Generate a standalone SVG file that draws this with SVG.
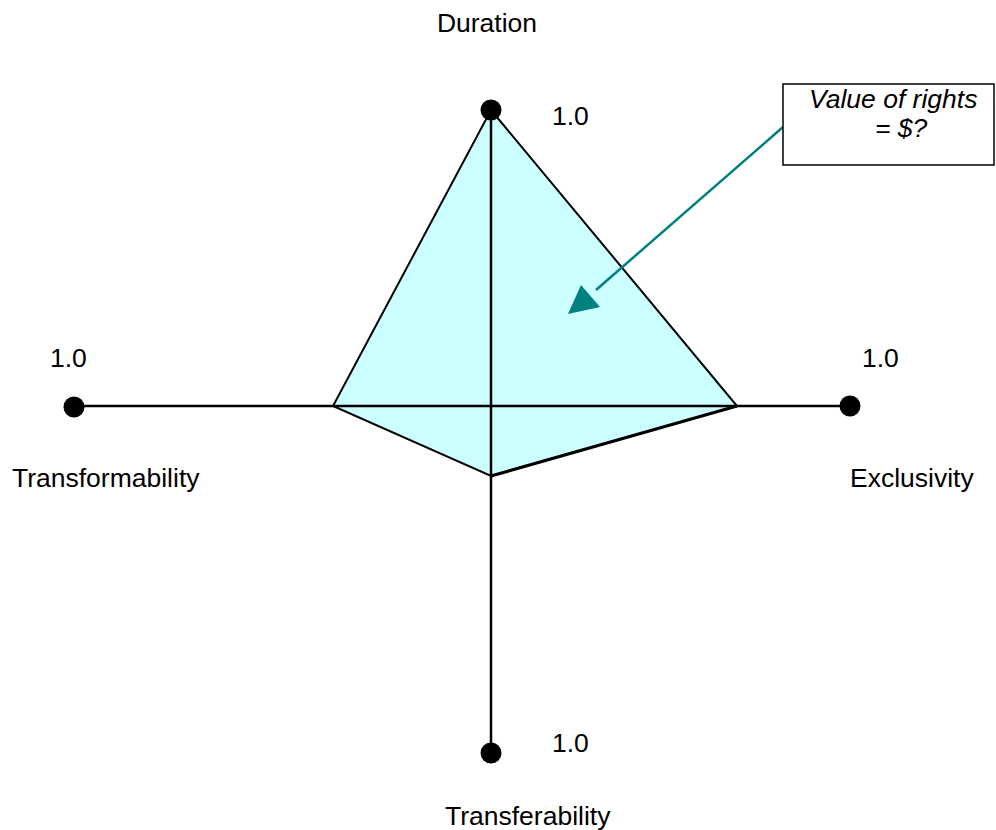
<svg xmlns="http://www.w3.org/2000/svg" width="996" height="830" viewBox="0 0 996 830">
<defs>
<style>
.t{font-family:"Liberation Sans",Arial,sans-serif;font-size:26.5px;fill:#000}
.i{font-style:italic}
.axis{stroke:#000;stroke-width:2.5;fill:none}
.dot{fill:#000}
</style>
</defs>
<rect width="996" height="830" fill="#fff"/>
<g id="area">
<polygon points="491,110 737,406 491,476 333,406" fill="#CCFFFF" stroke="#000" stroke-width="2" stroke-linejoin="miter"/>
<line x1="491" y1="476" x2="737" y2="406" stroke="#000" stroke-width="3"/>
</g>
<g id="axes">
<line class="axis" x1="74" y1="406" x2="850" y2="406"/>
<line class="axis" x1="491" y1="110" x2="491" y2="753"/>
</g>
<g id="duration">
<circle class="dot" cx="491" cy="110" r="10.5"/>
<text class="t" x="487" y="32" text-anchor="middle">Duration</text>
<text class="t" x="552" y="125">1.0</text>
</g>
<g id="transformability">
<circle class="dot" cx="74" cy="407" r="10.5"/>
<text class="t" x="50" y="367">1.0</text>
<text class="t" x="12" y="487">Transformability</text>
</g>
<g id="exclusivity">
<circle class="dot" cx="850" cy="406" r="10.5"/>
<text class="t" x="862" y="367">1.0</text>
<text class="t" x="850" y="487">Exclusivity</text>
</g>
<g id="transferability">
<circle class="dot" cx="491" cy="753" r="10.5"/>
<text class="t" x="552" y="752">1.0</text>
<text class="t" x="445" y="825">Transferability</text>
</g>
<g id="connectors">
<line x1="783" y1="127" x2="596" y2="290" stroke="#008080" stroke-width="2.5"/>
<polygon points="568,314 581,285 600,307" fill="#008080"/>
</g>
<g id="callout">
<rect x="783" y="84" width="211" height="81" fill="#fff" stroke="#000" stroke-width="1.5"/>
<text class="t i" x="809" y="108">Value of rights</text>
<text class="t i" x="875" y="137">= $?</text>
</g>
</svg>
